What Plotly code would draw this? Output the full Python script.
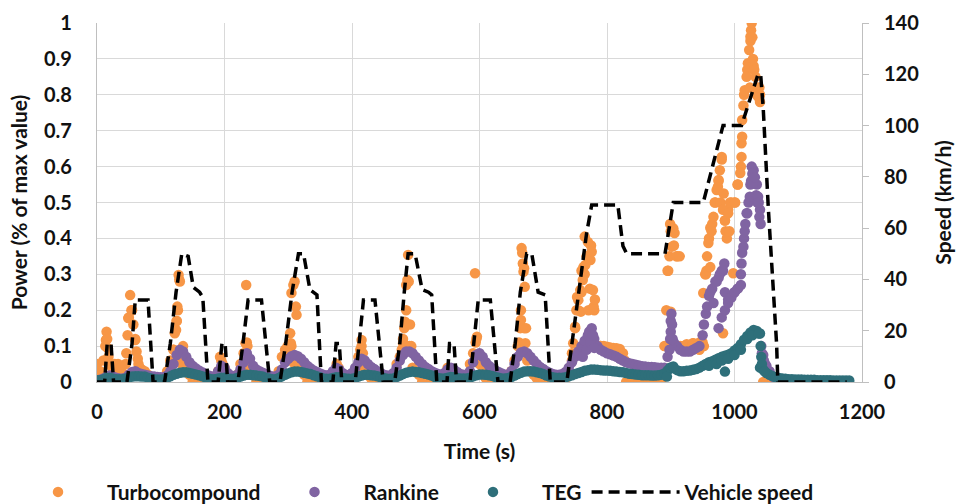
import plotly.graph_objects as go

# ---------------- data ----------------
TIME_S = list(range(0, 1181, 5))

TURBO_GRID = [
    .050, .030, .060, .140, .050, .030, .040, .030, .025, .050, .180, .200, .120, .050, .035, .030, .020, 0, 0, 0,
    0, 0, .030, .060, .090, .170, .280, .100, .040, .020, 0, 0, 0, 0, 0, 0, 0, 0, .030, .060,
    .040, .020, 0, 0, .020, .050, .080, .110, .040, .020, 0, 0, 0, 0, 0, 0, 0, .030, .070, .090,
    .060, .100, .050, .040, .040, .020, 0, 0, 0, 0, 0, 0, 0, 0, .020, .040, .020, 0, 0, 0,
    0, .030, .070, .100, .040, .020, .010, 0, 0, 0, 0, 0, 0, .020, .050, .070, .120, .200, .100, .040,
    .030, .020, 0, 0, 0, 0, 0, 0, 0, .020, .040, .030, .020, 0, 0, 0, .020, .050, .080, .120,
    .050, .030, .010, 0, 0, 0, 0, 0, 0, .010, .030, .060, .100, .200, .150, .060, .030, .020, .010, 0,
    0, 0, 0, 0, 0, 0, 0, .010, .030, .060, .150, .200, .250, .300, .350, .380, .200, .100, .100, .100,
    .098, .096, .095, .094, .092, .080, 0, 0, 0, 0, 0, 0, 0, 0, 0, 0, 0, 0, .100, .310,
    .420, .380, .350, .100, .100, .105, .100, .108, .100, .110, .110, .300, .400, .440, .500, .560, .620, .450, .480, .500,
    .500, .550, .600, .800, .870, .950, .880, .820, .800, 0, 0, 0, 0, 0, 0, 0, 0, 0, 0, 0,
    0, 0, 0, 0, 0, None, None, None, None, None, None, None, None, None, None, None, None,
]

RANKINE_GRID = [
    .005, .006, .010, .015, .018, .015, .012, .010, .010, .012, .020, .028, .030, .025, .022, .020, .018, .016, .015, .014,
    .013, .013, .018, .030, .050, .075, .090, .085, .070, .055, .045, .038, .032, .027, .022, .018, .015, .013, .030, .045,
    .040, .025, .018, .016, .020, .035, .055, .080, .065, .045, .035, .030, .026, .022, .018, .015, .015, .020, .035, .055,
    .065, .072, .075, .072, .065, .055, .045, .038, .032, .028, .024, .020, .018, .020, .030, .040, .035, .025, .020, .018,
    .025, .040, .055, .065, .060, .050, .042, .036, .030, .025, .020, .018, .018, .025, .040, .060, .075, .085, .085, .080,
    .070, .060, .050, .042, .036, .030, .026, .022, .020, .025, .035, .040, .035, .028, .022, .020, .020, .030, .055, .075,
    .080, .070, .055, .045, .038, .032, .028, .024, .020, .020, .030, .050, .070, .082, .085, .080, .070, .060, .050, .042,
    .036, .030, .026, .022, .020, .020, .022, .028, .040, .055, .070, .085, .100, .115, .130, .145, .120, .100, .090, .085,
    .080, .077, .074, .070, .065, .060, .055, .052, .050, .048, .046, .044, .043, .042, .042, .041, .040, .040, .040, .070,
    .140, .110, .100, .090, .085, .085, .085, .090, .095, .100, .130, .190, .240, .260, .280, .290, .310, .250, .230, .240,
    .250, .260, .300, .400, .470, .550, .590, .550, .480, .075, .045, .030, .015, .010, .008, .006, .005, .005, .005, .005,
    .004, .004, .003, .003, .003, None, None, None, None, None, None, None, None, None, None, None, None,
]

TEG_GRID = [
    .005, .005, .008, .012, .012, .010, .008, .008, .008, .010, .012, .015, .016, .016, .015, .015, .012, .010, .008, .007,
    .007, .008, .012, .016, .020, .023, .026, .027, .027, .025, .023, .021, .019, .016, .013, .010, .008, .008, .010, .012,
    .012, .010, .009, .009, .011, .015, .018, .020, .020, .019, .018, .017, .015, .012, .010, .008, .008, .011, .016, .020,
    .024, .027, .029, .029, .028, .026, .024, .022, .019, .016, .013, .010, .009, .009, .011, .013, .013, .011, .010, .009,
    .009, .011, .015, .018, .020, .020, .019, .018, .016, .013, .011, .009, .009, .010, .014, .018, .022, .026, .028, .029,
    .028, .027, .025, .023, .021, .018, .014, .011, .010, .010, .012, .014, .013, .011, .010, .010, .010, .012, .016, .019,
    .021, .021, .020, .019, .017, .014, .012, .010, .010, .011, .014, .018, .022, .026, .029, .030, .030, .029, .027, .025,
    .022, .018, .015, .013, .012, .012, .012, .013, .016, .019, .022, .025, .028, .031, .033, .035, .035, .034, .033, .032,
    .032, .031, .030, .029, .028, .027, .025, .023, .022, .021, .020, .019, .019, .019, .018, .018, .019, .020, .024, .032,
    .040, .038, .033, .030, .030, .031, .032, .034, .036, .040, .045, .050, .055, .058, .062, .066, .070, .073, .076, .080,
    .088, .095, .105, .118, .128, .138, .145, .142, .135, .035, .025, .020, .016, .013, .011, .010, .009, .008, .008, .007,
    .007, .007, .006, .006, .006, .006, .005, .005, .005, .005, .005, .004, .004, .004, .004, .004, .004,
]

# Extra read-off points where the scatter forms dense vertical streaks (time s, value)
TURBO_EXTRA = [
    (3, .03), (8, .025), (13, .10), (14, .117), (16, .12), (17, .094), (18, .07), (22, .045), (28, .05), (33, .05),
    (38, .04), (46, .08), (48, .13), (49, .178), (52, .242), (54, .20), (57, .16), (60, .117), (62, .085), (64, .065),
    (67, .04), (72, .03), (120, .09), (122, .136), (124, .145), (125, .17), (126, .21), (127, .20), (128, .298),
    (129, .285), (131, .06), (133, .05),
    (193, .07), (197, .05), (233, .108), (234, .27), (236, .10), (299, .10), (300, .08), (303, .136), (304, .108),
    (305, .248), (308, .27), (310, .28), (312, .21), (313, .187), (316, .06), (318, .05), (323, .043),
    (376, .05), (379, .04), (413, .09), (415, .117), (417, .08), (478, .09), (480, .108), (482, .15), (483, .168),
    (485, .27), (487, .284), (488, .354), (489, .28), (491, .16), (493, .10),
    (593, .303), (594, .11), (596, .126), (598, .06), (662, .11), (664, .15), (665, .173), (666, .373), (667, .36),
    (668, .33), (669, .307), (670, .317), (671, .265), (672, .108), (673, .15),
    (745, .08), (747, .108), (750, .154), (752, .20), (753, .237), (755, .228), (758, .256), (759, .196), (760, .31),
    (762, .284), (763, .32), (765, .405), (766, .326), (768, .35), (770, .39), (771, .20), (773, .26), (774, .34),
    (776, .363), (778, .256), (779, .21), (781, .23), (783, .10), (790, .10), (828, .06),
    (893, .20), (896, .31), (898, .35), (899, .44), (900, .196), (902, .377), (904, .428), (906, .415), (909, .35),
    (914, .35), (919, .098), (935, .108), (945, .09),
    (951, .248), (952, .10), (954, .30), (956, .31), (957, .35), (959, .387), (962, .32), (962, .43), (964, .42),
    (967, .46), (969, .50), (972, .535), (974, .544), (975, .563), (977, .59), (978, .50), (980, .627), (982, .48),
    (982, .136), (983, .525), (985, .45), (986, .42), (988, .40), (990, .47), (992, .42), (993, .50), (998, .303),
    (1001, .50), (1005, .55), (1009, .582), (1011, .627), (1011, .665), (1012, .683), (1012, .73), (1014, .77),
    (1016, .813), (1019, .85), (1021, .888), (1023, .925), (1024, .82), (1025, .962), (1026, .98), (1027, 1.0),
    (1028, .96), (1029, .90), (1031, .87), (1033, .85), (1035, .80), (1037, .795), (1039, .82), (1040, .78),
]

RANKINE_EXTRA = [
    (762, .07), (768, .09), (772, .14), (774, .11), (776, .15), (778, .13), (780, .095),
    (898, .09), (899, .12), (900, .17), (901, .19), (902, .16), (903, .12),
    (952, .16), (957, .21), (962, .25), (967, .22), (972, .28), (977, .30), (982, .31), (984, .33),
    (975, .15), (980, .18), (985, .20), (990, .22), (995, .235), (1000, .25), (1005, .26), (1010, .27),
    (1011, .33), (1012, .36), (1014, .377), (1016, .42), (1017, .44), (1019, .47), (1022, .50), (1024, .516),
    (1026, .56), (1027, .60), (1028, .58), (1029, .553), (1032, .57), (1034, .52), (1036, .50), (1037, .516),
    (1038, .50), (1039, .46), (1041, .44), (1042, .10), (1043, .08), (1044, .065), (1046, .06), (1048, .05),
]

TEG_EXTRA = [
    (894, .015), (899, .04), (904, .043), (960, .045), (972, .05), (980, .06), (985, .029), (990, .065),
    (1000, .075), (1010, .09), (1020, .12), (1028, .13), (1038, .135), (1040, .04), (1041, .10), (1042, .07),
    (1043, .05), (1047, .03),
]

# Vehicle speed profile (time s, km/h) breakpoints
SPEED_T = [0, 12, 16, 22, 26, 47, 55, 60, 80, 88, 106, 115, 124, 133, 143, 151, 161, 166, 174,
           190, 196, 201, 205, 221, 229, 237, 258, 271, 287, 296, 306, 316, 324, 334, 345, 352,
           370, 375, 380, 384, 405, 411, 418, 436, 449, 467, 475, 482, 488, 499, 510, 520, 525, 533,
           549, 553, 560, 564, 585, 591, 598, 617, 629, 648, 656, 664, 674, 682, 692, 703, 711,
           737, 752, 768, 776, 817, 825, 831, 891, 899, 904, 951, 982, 1011, 1037, 1041, 1045, 1053,
           1066, 1068, 1176]
SPEED_V = [0, 0, 15, 15, 0, 0, 15, 32, 32, 0, 0, 15, 35, 50, 49, 37, 35, 33, 0,
           0, 15, 15, 0, 0, 15, 32, 32, 0, 0, 15, 35, 50, 50, 36, 34, 0,
           0, 15, 15, 0, 0, 15, 32, 32, 0, 0, 15, 35, 50, 50, 36, 35, 34, 0,
           0, 15, 15, 0, 0, 15, 32, 32, 0, 0, 15, 35, 50, 50, 35, 34, 0,
           0, 27, 58, 69, 69, 53, 50, 50, 62, 70, 70, 100, 100, 120, 120, 107, 68,
           15, 0, 0]

SERIES_NAMES = ["Turbocompound", "Rankine", "TEG"]
SPEED_NAME = "Vehicle speed"

X_TICKS = [0, 200, 400, 600, 800, 1000, 1200]

# ---------------- styles ----------------
COLORS = ["#F79646", "#8064A2", "#2E6F7A"]
FONT = "Lato, Carlito, 'Liberation Sans', sans-serif"
TXT = "#111111"
CLEAR = "rgba(0,0,0,0)"


def combine(grid, extra):
    xs = list(TIME_S) + [p[0] for p in extra]
    ys = list(grid) + [p[1] for p in extra]
    return xs, ys


assert len(TURBO_GRID) == len(TIME_S) == len(RANKINE_GRID) == len(TEG_GRID)
assert len(SPEED_T) == len(SPEED_V)

fig = go.Figure()
for name, grid, extra, col in zip(SERIES_NAMES,
                                  [TURBO_GRID, RANKINE_GRID, TEG_GRID],
                                  [TURBO_EXTRA, RANKINE_EXTRA, TEG_EXTRA],
                                  COLORS):
    xs, ys = combine(grid, extra)
    fig.add_trace(go.Scatter(x=xs, y=ys, mode="markers", name=name,
                             marker=dict(color=col, size=10.5, line=dict(width=0)),
                             yaxis="y"))

fig.add_trace(go.Scatter(x=SPEED_T, y=SPEED_V, mode="lines", name=SPEED_NAME,
                         line=dict(color="black", width=3.5, dash="11px,6px"),
                         yaxis="y2"))
# label carrier for the speed axis (tick labels kept apart from the short tick marks)
fig.add_trace(go.Scatter(x=[None], y=[None], yaxis="y3", showlegend=False, hoverinfo="skip"))

tick_font = dict(family=FONT, size=20, color=TXT, weight="bold")
title_font = dict(family=FONT, size=21, color=TXT, weight="bold")
GRID = "#D9D9D9"
LINE = "#BFBFBF"

fig.update_layout(
    width=957, height=504,
    margin=dict(l=97, r=95, t=23, b=122, autoexpand=False),
    paper_bgcolor="white", plot_bgcolor="white",
    font=dict(family=FONT, size=20, color=TXT, weight="bold"),
    xaxis=dict(range=[0, 1200], tickvals=X_TICKS, showgrid=True, gridcolor=GRID, gridwidth=1.3,
               showline=True, linecolor=LINE, linewidth=1.3, zeroline=False,
               ticks="outside", ticklen=12, tickcolor=CLEAR, automargin=False,
               tickfont=tick_font, title=dict(text="Time (s)", font=title_font, standoff=22)),
    yaxis=dict(range=[0, 1], dtick=0.1, showgrid=True, gridcolor=GRID, gridwidth=1.3,
               showline=True, linecolor=LINE, linewidth=1.3, zeroline=False,
               ticks="outside", ticklen=20, tickcolor=CLEAR, automargin=False,
               tickfont=tick_font, title=dict(text="Power (% of max value)", font=title_font, standoff=10)),
    yaxis2=dict(range=[0, 140], dtick=20, overlaying="y", side="right", showgrid=False,
                showline=True, linecolor=LINE, linewidth=1.3, zeroline=False,
                ticks="outside", ticklen=6, tickcolor=LINE, tickwidth=1.3,
                showticklabels=False, automargin=False),
    yaxis3=dict(range=[0, 140], dtick=20, overlaying="y", side="right", anchor="x", showgrid=False,
                showline=False, zeroline=False, ticks="outside", ticklen=17, tickcolor=CLEAR,
                automargin=False,
                tickfont=tick_font, title=dict(text="Speed (km/h)", font=title_font, standoff=18)),
    legend=dict(orientation="h", x=-0.115, xanchor="left", y=-0.25, yanchor="top",
                font=title_font, itemwidth=88, bgcolor=CLEAR),
    showlegend=True,
)

fig.write_html("out.html", config={"displayModeBar": False},
               post_script="document.body.style.margin='0';")
